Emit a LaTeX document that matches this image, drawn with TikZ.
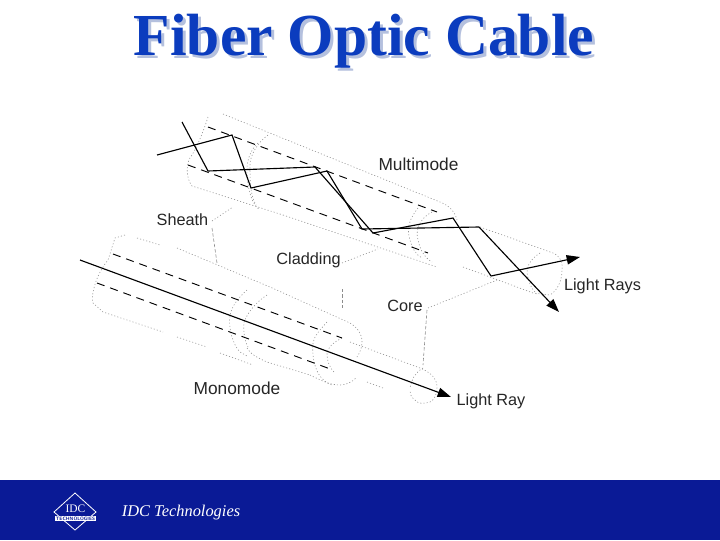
\documentclass[tikz,border=0pt]{standalone}
\usepackage{fontspec}
\setmainfont{Liberation Sans}
\newfontfamily\timesf{Liberation Serif}
\usetikzlibrary{arrows.meta}
\definecolor{barblue}{HTML}{0A1A96}
\definecolor{titleblue}{HTML}{0B3CBE}
\definecolor{shadowblue}{HTML}{B4C0DE}
\tikzset{
  ray/.style={black,line width=0.85pt,line join=miter},
  rayarrow/.style={ray,-{Triangle[length=10pt,width=7pt]}},
  corewall/.style={black,line width=0.7pt,dash pattern=on 6pt off 4.5pt},
  outline/.style={gray!85,line width=0.45pt,dash pattern=on 0.8pt off 1.6pt},
  leader/.style={gray!90,line width=0.45pt,dash pattern=on 2.5pt off 1.5pt},
  lbl/.style={font=\fontsize{12.2}{15}\selectfont,text=black!85,inner sep=0pt,anchor=base},
  lblbig/.style={font=\fontsize{13}{15}\selectfont,text=black!85,inner sep=0pt,anchor=base},
}
\begin{document}
\begin{tikzpicture}[x=0.75pt,y=-0.75pt]
\useasboundingbox (0,0) rectangle (720,540);
\fill[white] (0,0) rectangle (720,540);
\fill[barblue] (0,480) rectangle (720,540);
% title
\node[font=\timesf\bfseries\fontsize{44.7}{50}\selectfont,text=shadowblue,inner sep=0pt,anchor=base] (titleshadow) at (367,58) {Fiber Optic Cable};
\node[font=\timesf\bfseries\fontsize{44.7}{50}\selectfont,text=titleblue,inner sep=0pt,anchor=base] (title) at (364,55) {Fiber Optic Cable};
% --- multimode outlines
\draw[outline] (223,114) -- (440,202) .. controls (450,206) and (455,212) .. (457,220);
\draw[outline] (208,117) .. controls (204,130) and (196,150) .. (190,158) .. controls (186,165) and (186,178) .. (192,186) -- (283,215);
\draw[outline] (283,215) -- (437,267);
\draw[outline] (258,143) .. controls (250,150) and (246,162) .. (247,175) .. controls (248,190) and (252,205) .. (260,210);
\draw[outline] (268,135) .. controls (258,142) and (250,155) .. (250,165) .. controls (250,180) and (250,195) .. (256,205);
\draw[outline] (432,212) .. controls (420,218) and (415,230) .. (418,240) .. controls (420,250) and (425,258) .. (432,262);
\draw[outline] (418,208) .. controls (410,218) and (406,228) .. (410,240) .. controls (412,248) and (416,255) .. (422,258);
\draw[outline] (480,227) -- (553,253) .. controls (560,256) and (563,262) .. (562,270) .. controls (562,280) and (558,290) .. (550,295);
\draw[outline] (463,267) -- (533,293) -- (550,295);
\draw[outline] (540,253) .. controls (532,258) and (527,265) .. (527,272) .. controls (528,282) and (532,290) .. (537,294);
% --- monomode outlines
\draw[outline] (125,235) -- (115,238) -- (108,260) .. controls (100,270) and (96,280) .. (94,288) .. controls (92,296) and (92,300) .. (93,303) -- (103,312) -- (163,332);
\draw[outline] (137,238) -- (160,245);
\draw[outline] (177,248) -- (270,287) -- (350,323) .. controls (358,328) and (362,334) .. (362,342) .. controls (362,348) and (360,352) .. (357,357);
\draw[outline] (177,337) -- (207,347);
\draw[outline] (220,353) -- (253,365);
\draw[outline] (247,348) .. controls (250,354) and (258,358) .. (267,362) -- (310,375);
\draw[outline] (310,375) .. controls (320,380) and (330,385) .. (340,385) .. controls (346,385) and (352,382) .. (356,378);
\draw[outline] (367,382) -- (383,388);
\draw[outline] (247,290) .. controls (238,298) and (232,306) .. (230,315) .. controls (228,328) and (233,345) .. (240,352) -- (247,356);
\draw[outline] (267,295) .. controls (256,302) and (248,312) .. (244,322) .. controls (243,332) and (245,342) .. (248,347);
\draw[outline] (327,322) .. controls (320,330) and (314,336) .. (313,343) .. controls (312,355) and (314,365) .. (318,373) .. controls (322,380) and (328,384) .. (332,385);
\draw[outline] (342,338) .. controls (332,343) and (328,348) .. (327,353) .. controls (327,362) and (330,368) .. (334,372);
\draw[outline] (350,342) -- (420,368) .. controls (430,372) and (437,378) .. (437,387) .. controls (437,395) and (434,400) .. (430,402) .. controls (424,404) and (418,404) .. (415,400) .. controls (411,397) and (410,394) .. (410,391);
\draw[outline] (423,368) .. controls (416,372) and (412,378) .. (410,388);
% --- core walls
\draw[corewall] (208,127) -- (437,212);
\draw[corewall] (188,165) -- (428,253);
\draw[corewall] (113,254) -- (342,338);
\draw[corewall] (97,283) -- (333,370);
% --- leaders
\coordinate (sheathA) at (212,221);
\coordinate (sheathB) at (233,207);
\coordinate (sheathC) at (212,228);
\coordinate (sheathD) at (217,263);
\coordinate (cladA) at (342,263);
\coordinate (cladB) at (378,249);
\coordinate (cladC) at (342,289);
\coordinate (cladD) at (342,310);
\coordinate (coreA) at (428,308);
\coordinate (coreB) at (497,280);
\coordinate (coreC) at (427,310);
\coordinate (coreD) at (423,365);
\draw[outline] (sheathA) -- (sheathB);
\draw[leader] (sheathC) -- (sheathD);
\draw[outline] (cladA) -- (cladB);
\draw[leader] (cladC) -- (cladD);
\draw[outline] (coreA) -- (coreB);
\draw[leader] (coreC) -- (coreD);
% --- rays
\draw[ray] (157,155) -- (232,135) -- (251,188) -- (327,171) -- (362,229) -- (479,227);
\draw[rayarrow] (479,227) -- (559,312);
\draw[ray] (182,122) -- (208,171) -- (315,167) -- (373,233) -- (453,218) -- (491,276);
\draw[rayarrow] (491,276) -- (580,257);
\draw[rayarrow] (80,260) -- (451,397);
% --- labels
\node[lblbig] (multimode) at (418.5,170) {Multimode};
\node[lbl] (sheath) at (182.5,225) {Sheath};
\node[lbl] (cladding) at (308.5,264) {Cladding};
\node[lbl] (core) at (405,311) {Core};
\node[lbl] (rays) at (602.5,290) {Light Rays};
\node[lblbig] (monomode) at (237,394) {Monomode};
\node[lbl] (lightray) at (491,405) {Light Ray};
% --- footer
\draw[white,line width=0.6pt] (75,493) -- (96,512) -- (75,530) -- (54,512) -- cycle;
\fill[white] (55,516) rectangle (96,521);
\node[font=\timesf\fontsize{8.6}{10}\selectfont,text=white,inner sep=0pt] (idc) at (75.5,509) {IDC};
\node[font=\sffamily\bfseries\fontsize{3.6}{4}\selectfont,text=barblue,inner sep=0pt] (tech) at (75.5,518.5) {TECHNOLOGIES};
\node[font=\timesf\itshape\fontsize{12.3}{14}\selectfont,text=white,inner sep=0pt,anchor=base] (brand) at (181,516) {IDC Technologies};
\end{tikzpicture}
\end{document}
